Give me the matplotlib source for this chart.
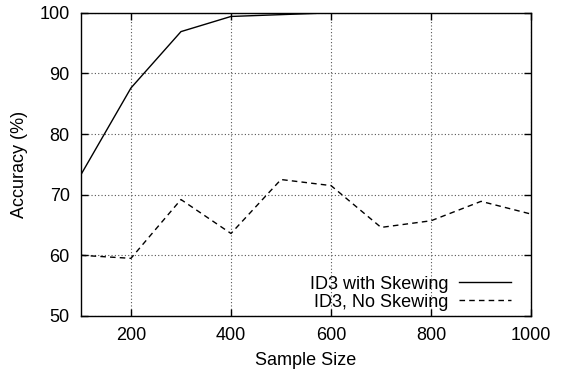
import matplotlib
matplotlib.use("Agg")
import matplotlib.pyplot as plt

plt.rcParams.update({
    "font.family": ["Liberation Sans", "DejaVu Sans"],
    "font.size": 13,
})

# Data
sample_size = [100, 200, 300, 400, 500, 600, 700, 800, 900, 1000]
acc_skewing = [73.3, 87.6, 96.9, 99.4, 99.7, 100.0, 100.0, 100.0, 100.0, 100.0]
acc_no_skewing = [60.0, 59.5, 69.2, 63.6, 72.5, 71.5, 64.6, 65.7, 68.9, 66.8]

fig = plt.figure(figsize=(5.62, 3.77), dpi=100)
ax = fig.add_axes([0.144, 0.162, 0.801, 0.804])

ax.plot(sample_size, acc_skewing, "k-", lw=1.0, label="ID3 with Skewing")
ax.plot(sample_size, acc_no_skewing, "k--", lw=1.0, dashes=(4, 3),
        label="ID3, No Skewing")

ax.set_xlim(100, 1000)
ax.set_ylim(50, 100)
ax.set_xticks([200, 400, 600, 800, 1000])
ax.set_yticks([50, 60, 70, 80, 90, 100])
ax.tick_params(direction="in", top=True, right=True, length=5, width=1, pad=8)
ax.grid(True, color="#555555", linestyle=(0, (1, 2)), lw=0.8)
for s in ax.spines.values():
    s.set_linewidth(1.0)

ax.set_xlabel("Sample Size", labelpad=6)
ax.set_ylabel("Accuracy (%)", labelpad=8)

ax.legend(loc="lower right", bbox_to_anchor=(0.972, -0.006),
          frameon=False, markerfirst=False,
          handlelength=2.9, handletextpad=0.6, labelspacing=0.05,
          borderaxespad=0.0)

fig.savefig("out.png", dpi=100)
plt.close(fig)
